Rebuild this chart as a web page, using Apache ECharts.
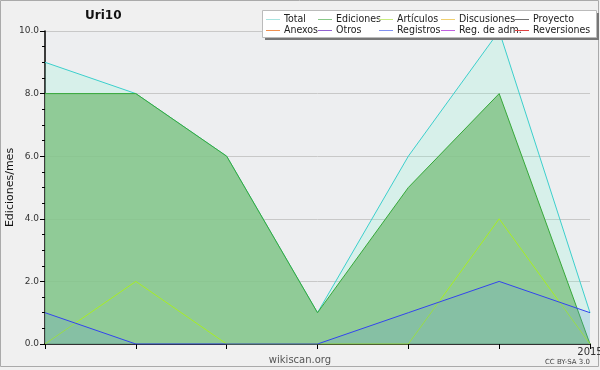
<!DOCTYPE html>
<html><head><meta charset="utf-8">
<script src="https://cdn.jsdelivr.net/npm/echarts@6/dist/echarts.min.js"></script>
<style>html,body{margin:0;padding:0;background:#f0f0f0}#c{width:600px;height:370px}</style>
</head><body><div id="c"></div>
<script>
var categories = ["2014-07","2014-08","2014-09","2014-10","2014-11","2014-12","2015-01"];
var xTickLabels = ["","","","","","","2015"];
var total = [9, 8, 6, 1, 6, 10, 1];
var ediciones = [8, 8, 6, 1, 5, 8, 0];
var articulos = [0, 2, 0, 0, 0, 4, 0];
var registros = [1, 0, 0, 0, 1, 2, 1];
var yTicks = [0, 2, 4, 6, 8, 10];
var legendNames = ["Total","Ediciones","Artículos","Discusiones","Proyecto","Anexos","Otros","Registros","Reg. de adm.","Reversiones"];
var legendColors = ["#a8e4e0","#88c888","#c8ec80","#f0d070","#707070","#f09050","#9060d0","#8090f0","#c060e0","#e04040"];

var chart = echarts.init(document.getElementById('c'), null, {renderer:'canvas'});
var font = '"DejaVu Sans Condensed", "DejaVu Sans"';

var series = [
  {name:"Total", type:'line', data: total, symbol:'none', z:2,
   lineStyle:{color:'#3ccfcc', width:1}, itemStyle:{color:'#3ccfcc'},
   areaStyle:{color:'rgba(132,248,210,0.2)', opacity:1}},
  {name:"Ediciones", type:'line', data: ediciones, symbol:'none', z:3,
   lineStyle:{color:'#36a83a', width:1}, itemStyle:{color:'#36a83a'},
   areaStyle:{color:'rgba(132,196,136,0.85)', opacity:1}},
  {name:"Artículos", type:'line', data: articulos, symbol:'none', z:4,
   lineStyle:{color:'#a8ee22', width:1}, itemStyle:{color:'#a8ee22'}},
  {name:"Registros", type:'line', data: registros, symbol:'none', z:5,
   lineStyle:{color:'#3344ee', width:1}, itemStyle:{color:'#3344ee'},
   areaStyle:{color:'rgba(94,152,220,0.2)', opacity:1}}
];
legendNames.forEach(function(n, i){
  if (!series.some(function(s){return s.name===n;})) {
    series.push({name:n, type:'line', data:[], symbol:'none', lineStyle:{color:legendColors[i]}, itemStyle:{color:legendColors[i]}});
  }
});

var colX = [266, 318, 379, 441, 515];
var legends = [];
for (var c = 0; c < 5; c++) {
  legends.push({
    orient:'vertical', left: colX[c], top: 14, itemGap: 0, z: 100, zlevel: 1,
    itemWidth: 14, itemHeight: 1, icon: 'rect', padding: 0,
    textStyle:{fontFamily:font, fontSize:10.5, color:'#222', lineHeight:11, padding:[0,0,0,-1]},
    selectedMode:false,
    data:[
      {name: legendNames[c], itemStyle:{color:legendColors[c]}},
      {name: legendNames[c+5], itemStyle:{color:legendColors[c+5]}}
    ]
  });
}

chart.setOption({
  animation:false,
  backgroundColor:'#f0f0f0',
  title:{text:'Uri10', left:85, top:10, padding:0, textStyle:{fontFamily:'DejaVu Sans', fontSize:12, fontWeight:'bold', color:'#111'}},
  legend: legends,
  grid:{left:45, right:10, top:31, bottom:26, containLabel:false, outerBoundsMode:'none', show:true, backgroundColor:'#edeef0', borderWidth:0},
  xAxis:{type:'category', data:categories, boundaryGap:false,
    axisLine:{lineStyle:{color:'#000', width:1.5}},
    axisTick:{show:true, length:5, lineStyle:{color:'#000'}, interval:0},
    axisLabel:{interval:0, margin:3, fontFamily:'DejaVu Sans', fontSize:10, color:'#333',
      formatter:function(v, i){return xTickLabels[i];}},
    splitLine:{show:false}},
  yAxis:{type:'value', min:yTicks[0], max:yTicks[yTicks.length-1], interval:2,
    name:'Ediciones/mes', nameLocation:'middle', nameGap:29, nameRotate:90, nameMoveOverlap:false,
    nameTextStyle:{fontFamily:'DejaVu Sans', fontSize:11, color:'#111'},
    axisLine:{show:true, lineStyle:{color:'#000', width:1.5}},
    axisTick:{show:true, length:5, lineStyle:{color:'#000'}},
    minorTick:{show:true, splitNumber:4, length:3, lineStyle:{color:'#000'}},
    axisLabel:{margin:6, fontFamily:'DejaVu Sans', fontSize:9, color:'#333',
      formatter:function(v){return v.toFixed(1);}},
    splitLine:{show:true, lineStyle:{color:'#c8c8c8', width:1}}},
  graphic:[
    {type:'rect', z:-10, silent:true, shape:{x:0.5,y:0.5,width:598,height:366}, style:{fill:'none', stroke:'#aaa', lineWidth:1}},
    {type:'rect', z:50, silent:true, shape:{x:265, y:13, width:334, height:27}, style:{fill:'#777'}},
    {type:'rect', z:51, silent:true, shape:{x:262.5, y:10.5, width:334, height:27}, style:{fill:'#fff', stroke:'#bbb', lineWidth:1}},
    {type:'text', z:60, silent:true, style:{x:300, y:360, text:'wikiscan.org', fill:'#555', font:'10px "DejaVu Sans"', textAlign:'center', textVerticalAlign:'middle'}},
    {type:'text', z:60, silent:true, style:{x:590, y:362, text:'CC BY-SA 3.0', fill:'#444', font:'7px "DejaVu Sans"', textAlign:'right', textVerticalAlign:'middle'}}
  ],
  series: series
});
</script></body></html>
